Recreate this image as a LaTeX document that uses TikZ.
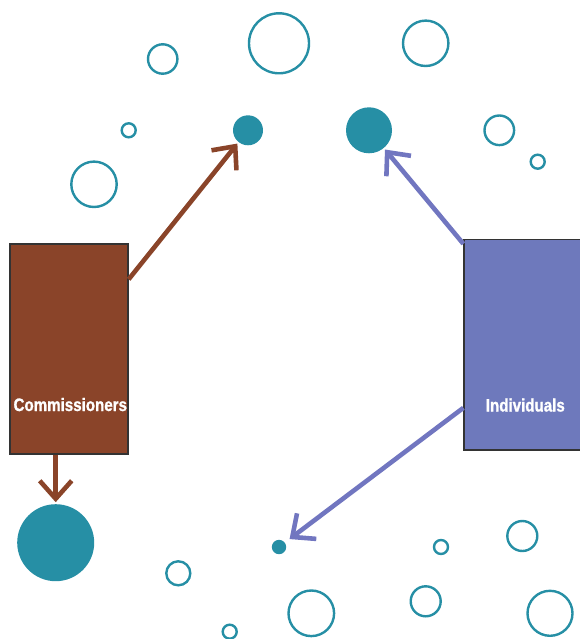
\documentclass[tikz,border=0pt]{standalone}
\usepackage{fontspec}
\usetikzlibrary{arrows.meta,calc}
\newfontfamily\lblfont[FakeStretch=0.84,FakeBold=1.2]{Liberation Sans Bold}
\definecolor{teal1}{HTML}{268FA5}
\definecolor{brownbox}{HTML}{8A4429}
\definecolor{bluebox}{HTML}{6E79BC}
\definecolor{bluearrow}{HTML}{7176C0}
\definecolor{edgegray}{HTML}{333333}
\tikzset{
  ring/.style={circle, draw=teal1, line width=2.4pt, inner sep=0pt, minimum size=#1},
  disc/.style={circle, fill=teal1, inner sep=0pt, minimum size=#1, outer sep=2pt},
  actor/.style={draw=edgegray, line width=1.3pt, inner sep=0pt, minimum width=118pt, minimum height=210pt},
  lbl/.style={text=white, font=\lblfont\fontsize{18}{20}\selectfont, inner sep=0pt, anchor=base},
  barb/.style={-{Straight Barb[length=18pt,width=32pt]}, line width=4.6pt},
}
\begin{document}
\begin{tikzpicture}[x=1pt,y=-1pt]
\useasboundingbox (0,0) rectangle (579,639);
% boxes
\node[actor, fill=brownbox] (comm) at (69,349) {};
\node[actor, fill=bluebox, minimum height=210.5pt] (indiv) at (523,344.75) {};
\node[lbl] (commlbl) at (70.3,411) {Commissioners};
\node[lbl] (indivlbl) at (525.3,411.5) {Individuals};
% filled circles
\node[disc=30pt] (d1) at (248,130.3) {};
\node[disc=46pt] (d2) at (369,130.3) {};
\node[disc=14.4pt] (d3) at (279,547) {};
\node[disc=77pt] (d4) at (55.7,542.7) {};
% rings
\node[ring=29.4pt] (r1) at (162.7,59) {};
\node[ring=60pt] (r2) at (279,43.3) {};
\node[ring=45.4pt] (r3) at (425.7,43.3) {};
\node[ring=14pt] (r4) at (128.7,130.3) {};
\node[ring=45.4pt] (r5) at (94,184.3) {};
\node[ring=29.6pt] (r6) at (499.3,130.3) {};
\node[ring=14pt] (r7) at (537.7,161.7) {};
\node[ring=24pt] (r8) at (178.3,573.3) {};
\node[ring=14pt] (r9) at (229.7,631.7) {};
\node[ring=45.6pt] (r10) at (311.3,613.3) {};
\node[ring=30pt] (r11) at (425.7,601.3) {};
\node[ring=14pt] (r12) at (441,547) {};
\node[ring=30pt] (r13) at (522.3,536) {};
\node[ring=45pt] (r14) at (550,613.3) {};
% connector start points on the boxes
\coordinate (s1) at ($(comm.north east)+(0,36)$);
\coordinate (s2) at ($(indiv.north west)+(0,5)$);
\coordinate (s3) at ($(indiv.north west)+(0,169)$);
\coordinate (s4) at ($(comm.south)+(-13.3,0)$);
% connectors
\draw[barb, draw=brownbox] (s1) -- (d1);
\draw[barb, draw=bluearrow] (s2) -- (d2);
\draw[barb, draw=bluearrow, shorten >=4pt] (s3) -- (d3);
\draw[barb, draw=brownbox] (s4) -- (s4 |- d4.north);
\end{tikzpicture}
\end{document}
